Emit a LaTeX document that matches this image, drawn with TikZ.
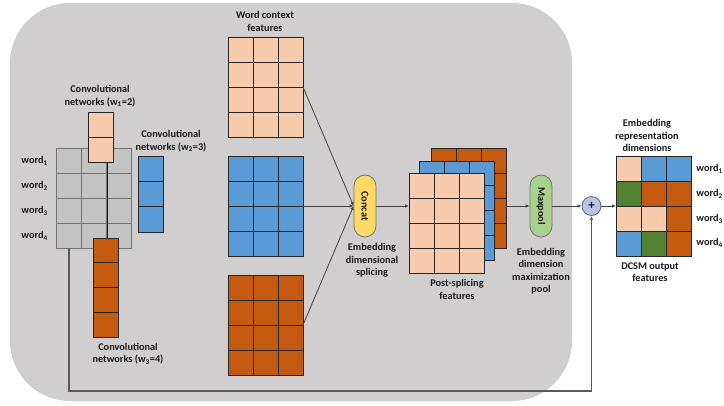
\documentclass[tikz,border=0pt]{standalone}
\usepackage{fontspec}
\setmainfont{Carlito}
\usetikzlibrary{arrows.meta,calc}
\definecolor{bg}{HTML}{D0CECE}
\definecolor{peach}{HTML}{F8CBAD}
\definecolor{cblue}{HTML}{5B9BD5}
\definecolor{corange}{HTML}{C55A11}
\definecolor{cgreen}{HTML}{548235}
\definecolor{cyellow}{HTML}{FFD966}
\definecolor{lgreen}{HTML}{A9D18E}
\definecolor{lblue}{HTML}{B4C7E7}
\definecolor{wgray}{HTML}{C3C3C3}
\definecolor{txt}{HTML}{1A1A1A}
\newcommand\cellblock[7]{% x0 y0 cols rows fill cellheight drawcolor
  \foreach \ii in {1,...,#3}{\foreach \jj in {1,...,#4}{
    \draw[draw=#7, line width=0.8pt, fill=#5] ({#1+25*(\ii-1)},{#2+#6*(\jj-1)}) rectangle ++(25,#6);}}}
\newcommand\onecell[3]{% x0 y0 fill
  \draw[draw=black!85, line width=0.8pt, fill=#3] (#1,#2) rectangle ++(25,25);}
\begin{document}
\begin{tikzpicture}[x=1pt,y=-1pt,
  font=\fontsize{10.3}{12.5}\selectfont\bfseries,
  box/.style={inner sep=0pt, outer sep=0pt},
  lab/.style={align=center, text=txt, inner sep=0pt},
  arr/.style={draw=black!75, line width=0.8pt, -{Latex[length=4pt,width=3.5pt]}},
  pill/.style={draw=black!55, line width=0.8pt, rounded corners=11pt, minimum width=22pt, minimum height=62pt, inner sep=0pt, text=txt},
  fbline/.style={draw=black!65, line width=1.3pt}]
\useasboundingbox (0,0) rectangle (724,405);
\fill[bg, rounded corners=60pt] (10,3) rectangle (572,401);

% word grid
\cellblock{56}{148}{3}{4}{wgray}{25}{black!55}
\node[box, minimum width=75pt, minimum height=100pt] (wg) at (93.5,198) {};
% conv w1
\cellblock{88}{112}{1}{2}{peach}{25}{black!85}
\node[box, minimum width=25pt, minimum height=50pt] (c1) at (100.5,137) {};
% conv w2
\cellblock{138}{156}{1}{3}{cblue}{25.33}{black!85}
\node[box, minimum width=25pt, minimum height=76pt] (c2) at (150.5,194) {};
% conv w3
\cellblock{93}{238}{1}{4}{corange}{24.75}{black!85}
\node[box, minimum width=25pt, minimum height=99pt] (c3) at (105.5,287.5) {};
\coordinate (vl) at (107,0);
\draw[black!90, line width=0.7pt] (c1.south -| vl) -- (c3.north -| vl);

% word context features
\cellblock{228}{37}{3}{4}{peach}{25}{black!85}
\node[box, minimum width=75pt, minimum height=100pt] (wcp) at (265.5,87) {};
\cellblock{228}{156}{3}{4}{cblue}{25}{black!85}
\node[box, minimum width=75pt, minimum height=100pt] (wcb) at (265.5,206) {};
\cellblock{228}{275}{3}{4}{corange}{25}{black!85}
\node[box, minimum width=75pt, minimum height=100pt] (wco) at (265.5,325) {};

% concat
\node[pill, fill=cyellow] (concat) at (365,206) {\rotatebox{-90}{Concat}};
\draw[arr] (wcp.east) -- (concat.west);
\draw[arr] (wcb.east) -- (concat.west);
\draw[arr] (wco.east) -- (concat.west);

% post-splicing
\cellblock{431}{148}{3}{4}{corange}{25}{black!85}
\node[box, minimum width=75pt, minimum height=100pt] (ps3) at (468.5,198) {};
\cellblock{419}{161}{3}{4}{cblue}{24.75}{black!85}
\node[box, minimum width=75pt, minimum height=99pt] (ps2) at (456.5,210.5) {};
\cellblock{409}{173}{3}{4}{peach}{25}{black!85}
\node[box, minimum width=75pt, minimum height=100pt] (ps1) at (446.5,223) {};
\draw[arr] (concat.east) -- (concat.east -| ps1.west);

% maxpool
\node[pill, fill=lgreen] (maxpool) at (541,206) {\rotatebox{-90}{Maxpool}};
\draw[arr] (maxpool.west -| ps3.east) -- (maxpool.west);

% plus
\node[circle, draw=black!60, line width=0.8pt, fill=lblue, minimum size=19pt, inner sep=0pt, text=txt, font=\fontsize{13}{13}\selectfont\bfseries] (plus) at (591.5,206) {+};
\draw[arr] (maxpool.east) -- (plus.west);

% output
\onecell{616}{156}{peach}\onecell{641}{156}{cblue}\onecell{666}{156}{cblue}
\onecell{616}{181}{cgreen}\onecell{641}{181}{corange}\onecell{666}{181}{corange}
\onecell{616}{206}{peach}\onecell{641}{206}{peach}\onecell{666}{206}{corange}
\onecell{616}{231}{cblue}\onecell{641}{231}{cgreen}\onecell{666}{231}{corange}
\node[box, minimum width=75pt, minimum height=100pt] (out) at (653.5,206) {};
\draw[arr] (plus.east) -- (out.west);

% feedback
\coordinate (fb) at (69,391);
\draw[fbline, -{Latex[length=4pt,width=3.5pt]}] (wg.south -| fb) -- (fb) -| (plus.south);

% labels
\node[lab] (l1) at (265,21.5) {Word context\\features};
\node[lab] (l2) at (100,96) {Convolutional\\networks (w\textsubscript{1}=2)};
\node[lab] (l3) at (171,141) {Convolutional\\networks (w\textsubscript{2}=3)};
\node[lab] (l4) at (128,353.5) {Convolutional\\networks (w\textsubscript{3}=4)};
\node[lab, anchor=east] (w1) at (48,161) {word\textsubscript{1}};
\node[lab, anchor=east] (w2) at (48,186) {word\textsubscript{2}};
\node[lab, anchor=east] (w3) at (48,211) {word\textsubscript{3}};
\node[lab, anchor=east] (w4) at (48,236) {word\textsubscript{4}};
\node[lab] (l5) at (372,260.5) {Embedding\\dimensional\\splicing};
\node[lab] (l6) at (457,289.5) {Post-splicing\\features};
\node[lab] (l7) at (541,271) {Embedding\\dimension\\maximization\\pool};
\node[lab] (l8) at (647,135.5) {Embedding\\representation\\dimensions};
\node[lab] (l9) at (650,272) {DCSM output\\features};
\node[lab, anchor=east] (r1) at (723,169) {word\textsubscript{1}};
\node[lab, anchor=east] (r2) at (723,194) {word\textsubscript{2}};
\node[lab, anchor=east] (r3) at (723,219) {word\textsubscript{3}};
\node[lab, anchor=east] (r4) at (723,243) {word\textsubscript{4}};
\end{tikzpicture}
\end{document}
